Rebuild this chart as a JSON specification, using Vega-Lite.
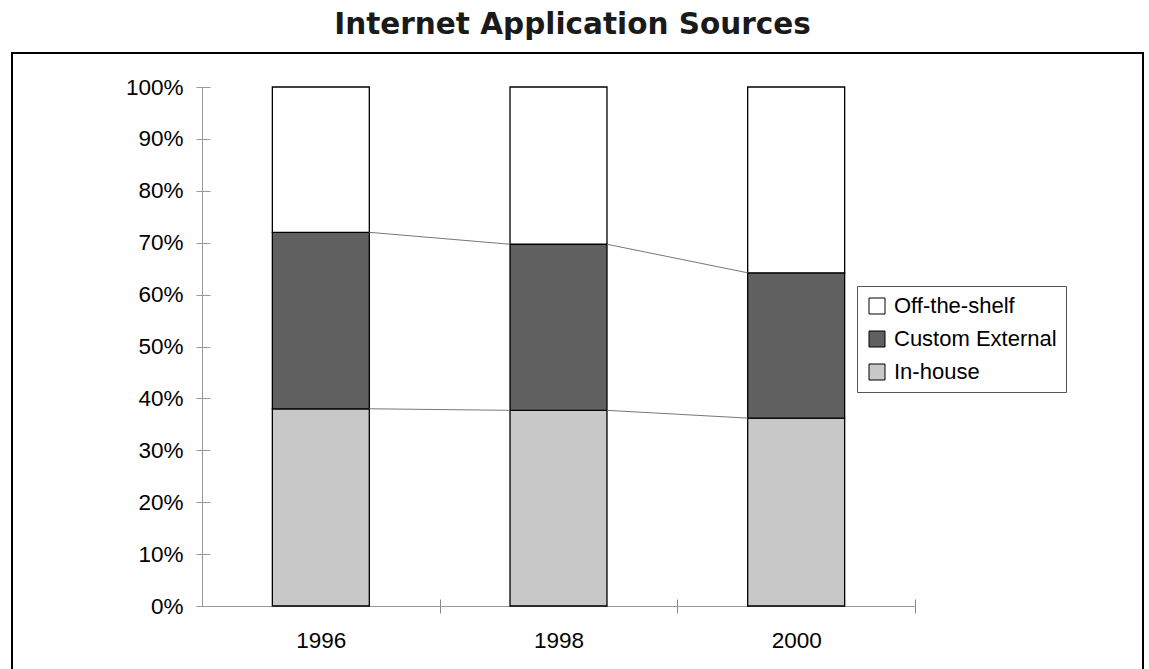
{
  "$schema": "https://vega.github.io/schema/vega-lite/v6.json",
  "autosize": {"type": "none"},
  "padding": {"left": 12, "top": 53, "right": 6, "bottom": 0},
  "width": 1131,
  "height": 630,
  "background": "white",
  "title": {"text": "Internet Application Sources", "font": "DejaVu Sans", "fontSize": 29.5, "fontWeight": "bold", "color": "#1a1a1a", "anchor": "middle", "offset": 13, "dx": -5},
  "data": {"values": [
    {"year": "1996", "source": "In-house", "share": 38},
    {"year": "1996", "source": "Custom External", "share": 34},
    {"year": "1996", "source": "Off-the-shelf", "share": 28},
    {"year": "1998", "source": "In-house", "share": 37.7},
    {"year": "1998", "source": "Custom External", "share": 32},
    {"year": "1998", "source": "Off-the-shelf", "share": 30.3},
    {"year": "2000", "source": "In-house", "share": 36.2},
    {"year": "2000", "source": "Custom External", "share": 28},
    {"year": "2000", "source": "Off-the-shelf", "share": 35.8}
  ]},
  "transform": [{"stack": "share", "groupby": ["year"], "as": ["y0", "y1"]}],
  "layer": [
    {
      "mark": {"type": "bar", "stroke": "black", "strokeWidth": 1.3},
      "encoding": {
        "x": {"field": "year", "type": "ordinal", "title": null,
          "scale": {"range": [190, 903], "paddingInner": 0.592, "paddingOuter": 0.296},
          "axis": {"title": null, "orient": "bottom", "labelAngle": 0, "labelFont": "Liberation Sans", "labelFontSize": 22.5, "labelColor": "black", "labelPadding": 16, "labelOffset": -70.5, "domainColor": "#999999", "tickColor": "#888888", "tickSize": 7, "bandPosition": 1, "tickOffset": 70.5, "tickExtra": false, "offset": -77, "grid": false}},
        "y": {"field": "y1", "type": "quantitative", "title": null,
          "scale": {"domain": [0, 100], "range": [553, 34]},
          "axis": {"title": null, "orient": "left", "values": [0, 10, 20, 30, 40, 50, 60, 70, 80, 90, 100], "labelExpr": "datum.value + '%'", "labelFont": "Liberation Sans", "labelFontSize": 22.5, "labelColor": "black", "labelPadding": 13, "domainColor": "#999999", "tickColor": "#999999", "tickSize": 6, "offset": -190, "grid": false}},
        "y2": {"field": "y0"},
        "color": {"field": "source", "type": "nominal",
          "scale": {"domain": ["Off-the-shelf", "Custom External", "In-house"], "range": ["#ffffff", "#606060", "#c8c8c8"]},
          "legend": {"title": null, "orient": "none", "legendX": 845, "legendY": 233, "direction": "vertical", "strokeColor": "#555555", "fillColor": "white", "padding": 9, "symbolType": "square", "symbolSize": 256, "symbolStrokeColor": "black", "symbolStrokeWidth": 1, "labelFont": "Liberation Sans", "labelFontSize": 22, "labelColor": "black", "labelOffset": 6, "rowPadding": 11, "labelLimit": 300}}
      }
    },
    {
      "transform": [
        {"filter": "datum.source !== 'Off-the-shelf'"},
        {"window": [{"op": "lead", "field": "y1", "as": "nextY1"}, {"op": "lead", "field": "year", "as": "nextYear"}], "groupby": ["source"], "sort": [{"field": "year", "order": "ascending"}]},
        {"filter": "datum.nextYear != null"}
      ],
      "mark": {"type": "rule", "color": "#777777", "strokeWidth": 1},
      "encoding": {
        "x": {"field": "year", "type": "ordinal", "bandPosition": 1, "title": null,
          "axis": {"title": null, "orient": "bottom", "labels": false, "domain": false, "tickColor": "#888888", "tickSize": -7, "bandPosition": 1, "tickOffset": 70.5, "tickExtra": false, "offset": -77, "grid": false}},
        "x2": {"field": "nextYear", "bandPosition": 0},
        "y": {"field": "y1", "type": "quantitative", "title": null,
          "axis": {"title": null, "orient": "left", "values": [0, 10, 20, 30, 40, 50, 60, 70, 80, 90, 100], "labels": false, "domain": false, "tickColor": "#999999", "tickSize": -8, "offset": -190, "grid": false}},
        "y2": {"field": "nextY1"}
      }
    }
  ],
  "resolve": {"axis": {"x": "independent", "y": "independent"}},
  "config": {"view": {"stroke": "black", "strokeWidth": 2}}
}
